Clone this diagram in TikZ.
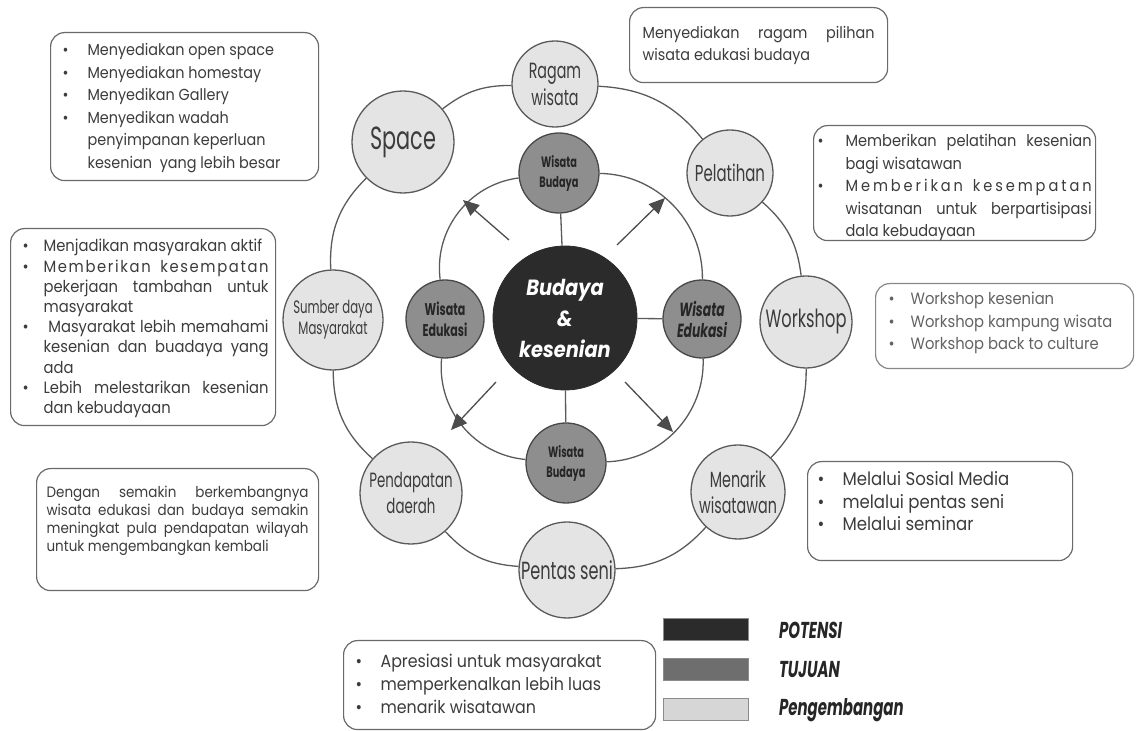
\documentclass[tikz,border=0pt]{standalone}
\usepackage{fontspec}
\setmainfont{Poppins}
\newfontfamily\condfont[FakeStretch=0.65]{Poppins}
\newfontfamily\corefont[FakeStretch=0.88]{Poppins}
\newfontfamily\notefont[FakeStretch=0.9]{Poppins}
\usepackage{xcolor}
\usetikzlibrary{arrows.meta,shapes,backgrounds}

\definecolor{potensi}{HTML}{2B2B2B}
\definecolor{tujuan}{HTML}{8E8E8E}
\definecolor{kembang}{HTML}{E4E4E4}
\definecolor{legtujuan}{HTML}{6E6E6E}
\definecolor{legkembang}{HTML}{D6D6D6}
\definecolor{garis}{HTML}{5A5A5A}
\definecolor{boxline}{HTML}{6A6A6A}
\definecolor{teks}{HTML}{3C3C3C}

\hyphenpenalty=10000
\tolerance=9999

\newlength\bulskip
\newlength\bulhang
\newcommand{\setbul}[2]{\setlength\bulskip{#1}\setlength\bulhang{#2}}
\newcommand{\bul}{\par\noindent\hangindent=\bulhang\hangafter=1\makebox[\bulhang][l]{\hspace{\bulskip}\textbullet}\ignorespaces}
\newcommand{\notetext}[3]{\begin{minipage}[t][#2][t]{#1}#3\end{minipage}}

\tikzset{
  outernode/.style={circle, draw=garis, line width=0.65pt, fill=kembang, text=teks, inner sep=0pt, align=center},
  innernode/.style={circle, draw=garis!80!black, line width=0.65pt, fill=tujuan, text=black!85, inner sep=0pt, align=center},
  corenode/.style={circle, draw=potensi, fill=potensi, text=white, inner sep=0pt, align=center, minimum size=72pt},
  notebox/.style={draw=boxline, line width=0.6pt, rounded corners=7pt, fill=white, text=teks, anchor=north west},
  ring/.style={draw=garis, line width=0.65pt},
  spread/.style={draw=garis!85!black, line width=0.65pt, -{Triangle[length=8pt,width=7pt]}},
  legbox/.style={draw=garis!70, line width=0.5pt, minimum width=42.5pt, minimum height=11pt, inner sep=0pt},
  legtext/.style={anchor=west, text=black!85, font=\condfont\bfseries\itshape\fontsize{11.5}{13}\selectfont}
}

\begin{document}
\begin{tikzpicture}[x=0.5pt, y=0.5pt]

    \useasboundingbox (0,0) rectangle (1136,-731);

    \draw (565,-318) node[corenode, font=\corefont\bfseries\itshape\fontsize{11}{15.5}\selectfont](core){Budaya\\\&\\kesenian};

    \draw (559,-173) node[innernode, minimum size=40pt, font=\condfont\bfseries\fontsize{7.5}{10}\selectfont](budayaA){Wisata\\Budaya};
    \draw (702,-319) node[innernode, minimum size=39pt, font=\condfont\bfseries\itshape\fontsize{9.5}{10.5}\selectfont](edukasiB){Wisata\\Edukasi};
    \draw (566,-463) node[innernode, minimum size=40pt, font=\condfont\bfseries\fontsize{7.5}{10}\selectfont](budayaB){Wisata\\Budaya};
    \draw (445,-319) node[innernode, minimum size=39pt, font=\condfont\bfseries\fontsize{8.5}{10.5}\selectfont](edukasiA){Wisata\\Edukasi};

    \draw [ring] (budayaA) to [bend left=45] (edukasiB);
    \draw [ring] (edukasiB) to [bend left=45] (budayaB);
    \draw [ring] (budayaB) to [bend left=45] (edukasiA);
    \draw [ring] (edukasiA) to [bend left=45] (budayaA);
    \draw [ring] (budayaA) -- (core);
    \draw [ring] (edukasiB) -- (core);
    \draw [ring] (budayaB) -- (core);

    \draw [spread] ([shift={(-56,78)}]core.center) -- ([shift={(-102,118)}]core.center);
    \draw [spread] ([shift={(52,73)}]core.center) -- ([shift={(100,120)}]core.center);
    \draw [spread] ([shift={(-69,-64)}]core.center) -- ([shift={(-114,-112)}]core.center);
    \draw [spread] ([shift={(60,-64)}]core.center) -- ([shift={(108,-114)}]core.center);

    \draw (555,-84) node[outernode, minimum size=43pt, font=\condfont\fontsize{11}{13.5}\selectfont](ragam){Ragam\\wisata};
    \draw (730,-173) node[outernode, minimum size=43pt, font=\condfont\fontsize{11.5}{13}\selectfont](pelatihan){Pelatihan};
    \draw (806,-322) node[outernode, minimum size=46pt, font=\condfont\fontsize{12.5}{14}\selectfont](workshop){Workshop};
    \draw (738,-492) node[outernode, minimum size=47pt, font=\condfont\fontsize{11}{13}\selectfont](menarik){Menarik\\wisatawan};
    \draw (567,-570) node[outernode, minimum size=48pt, font=\condfont\fontsize{12.4}{14}\selectfont](pentas){Pentas seni};
    \draw (411,-493) node[outernode, minimum size=51pt, font=\condfont\fontsize{10.3}{13}\selectfont](pendapatan){Pendapatan\\daerah};
    \draw (333,-320) node[outernode, minimum size=50pt, font=\condfont\fontsize{9}{10.5}\selectfont](sumber){Sumber daya\\Masyarakat};
    \draw (403,-142) node[outernode, minimum size=51pt, font=\condfont\fontsize{16}{18}\selectfont](space){Space};

    \draw [ring] (ragam) to [bend left=24] (pelatihan);
    \draw [ring] (pelatihan) to [bend left=21] (workshop);
    \draw [ring] (workshop) to [bend left=22] (menarik);
    \draw [ring] (menarik) to [bend left=23] (pentas);
    \draw [ring] (pentas) to [bend left=22] (pendapatan);
    \draw [ring] (pendapatan) to [bend left=24] (sumber);
    \draw [ring] (sumber) to [bend left=24] (space);
    \draw [ring] (space) to [bend left=19] (ragam);

    \draw (50,-32) node[notebox, inner xsep=5pt, inner ysep=5.5pt, font=\notefont\fontsize{8}{11.25}\selectfont](spacenote){\notetext{124pt}{63pt}{\raggedright\setbul{1pt}{13.5pt}
      \bul Menyediakan open space
      \bul Menyediakan homestay
      \bul Menyedikan Gallery
      \bul Menyedikan wadah\newline penyimpanan keperluan\newline kesenian~~yang~lebih~besar}};

    \draw (629,-7) node[notebox, inner xsep=6.5pt, inner ysep=9.25pt, font=\notefont\fontsize{8}{11}\selectfont](ragamnote){\notetext{116pt}{19pt}{%
      Menyediakan ragam pilihan\linebreak wisata edukasi budaya}};

    \draw (813,-125) node[notebox, inner xsep=2pt, inner ysep=4.4pt, font=\notefont\fontsize{8.1}{11.25}\selectfont](pelatihannote){\notetext{137pt}{48.7pt}{\setbul{0pt}{14pt}
      \bul Memberikan pelatihan kesenian\linebreak bagi wisatawan
      \bul {\addfontfeature{LetterSpace=18}Memberikan~kesempatan}\linebreak wisatanan untuk berpartisipasi\linebreak dala kebudayaan}};

    \draw (875,-283) node[notebox, draw=boxline!80, inner xsep=5pt, inner ysep=4.35pt, text=teks!80, font=\notefont\fontsize{8.2}{11.25}\selectfont](workshopnote){\notetext{119pt}{33.8pt}{\raggedright\setbul{1.5pt}{12.5pt}
      \bul Workshop kesenian
      \bul Workshop kampung~wisata
      \bul Workshop back to culture}};

    \draw (10,-228) node[notebox, inner xsep=3.5pt, inner ysep=5.35pt, font=\notefont\fontsize{8.2}{10.1}\selectfont](sumbernote){\notetext{125.5pt}{87.8pt}{\setbul{2.5pt}{13pt}
      \bul Menjadikan masyarakan aktif
      \bul {\addfontfeature{LetterSpace=10}Memberikan~kesempatan}\linebreak pekerjaan tambahan untuk\linebreak masyarakat
      \bul\ Masyarakat lebih memahami\linebreak kesenian dan buadaya yang\linebreak ada
      \bul Lebih melestarikan kesenian\linebreak dan kebudayaan}};

    \draw (36,-468) node[notebox, inner xsep=5pt, inner ysep=8.9pt, font=\notefont\fontsize{7.5}{9}\selectfont](pendapatannote){\notetext{131pt}{43.2pt}{%
      Dengan semakin berkembangnya\linebreak wisata edukasi dan budaya semakin\linebreak meningkat pula pendapatan wilayah\linebreak untuk mengembangkan kembali}};

    \draw (807,-461) node[notebox, inner xsep=5pt, inner ysep=5.1pt, font=\notefont\fontsize{9.2}{11.25}\selectfont](menariknote){\notetext{122.5pt}{39.3pt}{\raggedright\setbul{0pt}{12.5pt}
      \bul Melalui Sosial Media
      \bul melalui pentas seni
      \bul Melalui seminar}};

    \draw (343,-640) node[notebox, inner xsep=6pt, inner ysep=6.9pt, font=\notefont\fontsize{8.8}{11.5}\selectfont](pentasnote){\notetext{144pt}{30.7pt}{\raggedright\setbul{0pt}{12.5pt}
      \bul Apresiasi untuk masyarakat
      \bul memperkenalkan lebih luas
      \bul menarik wisatawan}};

    \draw (705.5,-630) node[legbox, fill=potensi](potensibox){};
    \draw (772,-630) node[legtext](potensilabel){POTENSI};
    \draw (705.5,-670) node[legbox, fill=legtujuan](tujuanbox){};
    \draw (772,-670) node[legtext](tujuanlabel){TUJUAN};
    \draw (705.5,-710) node[legbox, fill=legkembang](kembangbox){};
    \draw (772,-710) node[legtext](kembanglabel){Pengembangan};

\end{tikzpicture}
\end{document}
